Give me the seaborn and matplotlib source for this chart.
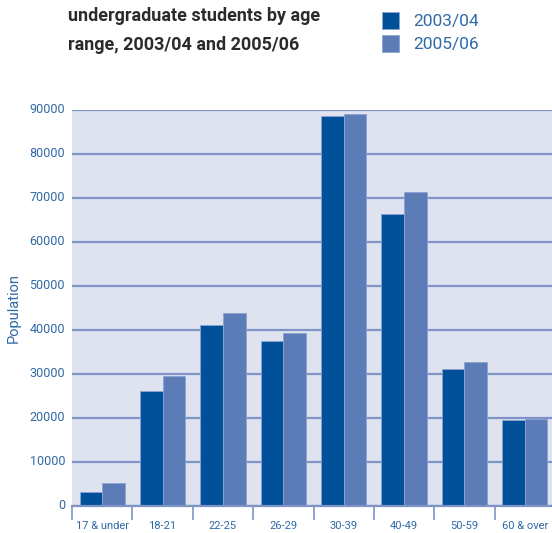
import matplotlib
matplotlib.use("Agg")
import matplotlib.pyplot as plt
import matplotlib.transforms as mtransforms
import seaborn as sns
import pandas as pd
import numpy as np

# Undergraduate population by age range
age_ranges = ["17 & under", "18-21", "22-25", "26-29", "30-39", "40-49", "50-59", "60 & over"]
years = ["2003/04", "2005/06"]
pop_2003 = [3200, 26000, 41200, 37400, 88700, 66300, 31100, 19500]
pop_2005 = [5200, 29500, 43800, 39300, 89100, 71400, 32600, 19700]
y_ticks = [0, 10000, 20000, 30000, 40000, 50000, 60000, 70000, 80000, 90000]

df = pd.DataFrame({
    "Age": age_ranges * 2,
    "Year": [years[0]] * len(age_ranges) + [years[1]] * len(age_ranges),
    "Population": pop_2003 + pop_2005,
})

DARK = "#00509a"
LIGHT = "#5c7cb7"
BG = "#dfe3f0"
GRID = "#7f94c6"
TEXT = "#2f6aa6"

sns.set_style("white")
plt.rcParams["font.family"] = ["Roboto", "DejaVu Sans"]

fig = plt.figure(figsize=(5.52, 5.33), dpi=100)
ax = fig.add_axes([72 / 552, (533 - 505.6) / 533, (555 - 72) / 552, (505.6 - 110) / 533])
ax.set_facecolor(BG)

sns.barplot(data=df, x="Age", y="Population", hue="Year", order=age_ranges,
            hue_order=years, palette=[DARK, LIGHT], saturation=1, width=0.75, gap=0,
            edgecolor="#8ea2d2", linewidth=0.6, ax=ax, zorder=3)

ax.set_ylim(0, 90000)
ax.set_xlim(-0.5, len(age_ranges) - 0.5)
ax.set_yticks(y_ticks)
ax.set_yticklabels([str(v) for v in y_ticks])
ax.yaxis.grid(True, color=GRID, linewidth=1.6, zorder=1)
ax.set_axisbelow(True)
for s in ["left", "right", "top"]:
    ax.spines[s].set_visible(False)
ax.spines["bottom"].set_color(GRID)
ax.spines["bottom"].set_linewidth(1.6)
ax.spines["bottom"].set_zorder(4)

# category separators below the baseline
ax.set_xticks(np.arange(len(age_ranges)))
ax.set_xticklabels(age_ranges)
ax.set_xticks(np.arange(len(age_ranges)) - 0.5, minor=True)
ax.tick_params(axis="x", which="major", bottom=False, length=0, pad=11,
               labelsize=8, labelcolor=TEXT)
ax.tick_params(axis="x", which="minor", bottom=True, length=10, width=1.2,
               color=GRID, direction="out")
ax.tick_params(axis="y", length=0, pad=5, labelsize=9, labelcolor=TEXT)

# lift the value labels slightly above their gridlines
lift = mtransforms.ScaledTranslation(0, 2 / 100, fig.dpi_scale_trans)
for lbl in ax.get_yticklabels():
    lbl.set_transform(lbl.get_transform() + lift)

ax.set_xlabel("")
ax.set_ylabel("Population", color=TEXT, fontsize=10.5, labelpad=6)

handles, labels = ax.get_legend_handles_labels()
ax.legend_.remove()
fig.legend(handles, labels, loc="upper left", bbox_to_anchor=(366 / 552, 1 + 4 / 533),
           frameon=False, fontsize=12.5, labelcolor=TEXT, handlelength=1.0,
           handleheight=1.2, handletextpad=0.8, labelspacing=0.3)

fig.text(68 / 552, 1 - 16 / 533, "undergraduate students by age",
         fontsize=13, fontweight="bold", color="#2b2b2b", va="center", ha="left")
fig.text(68 / 552, 1 - 45 / 533, "range, 2003/04 and 2005/06",
         fontsize=13, fontweight="bold", color="#2b2b2b", va="center", ha="left")

fig.savefig("out.png", dpi=100, facecolor="white")
